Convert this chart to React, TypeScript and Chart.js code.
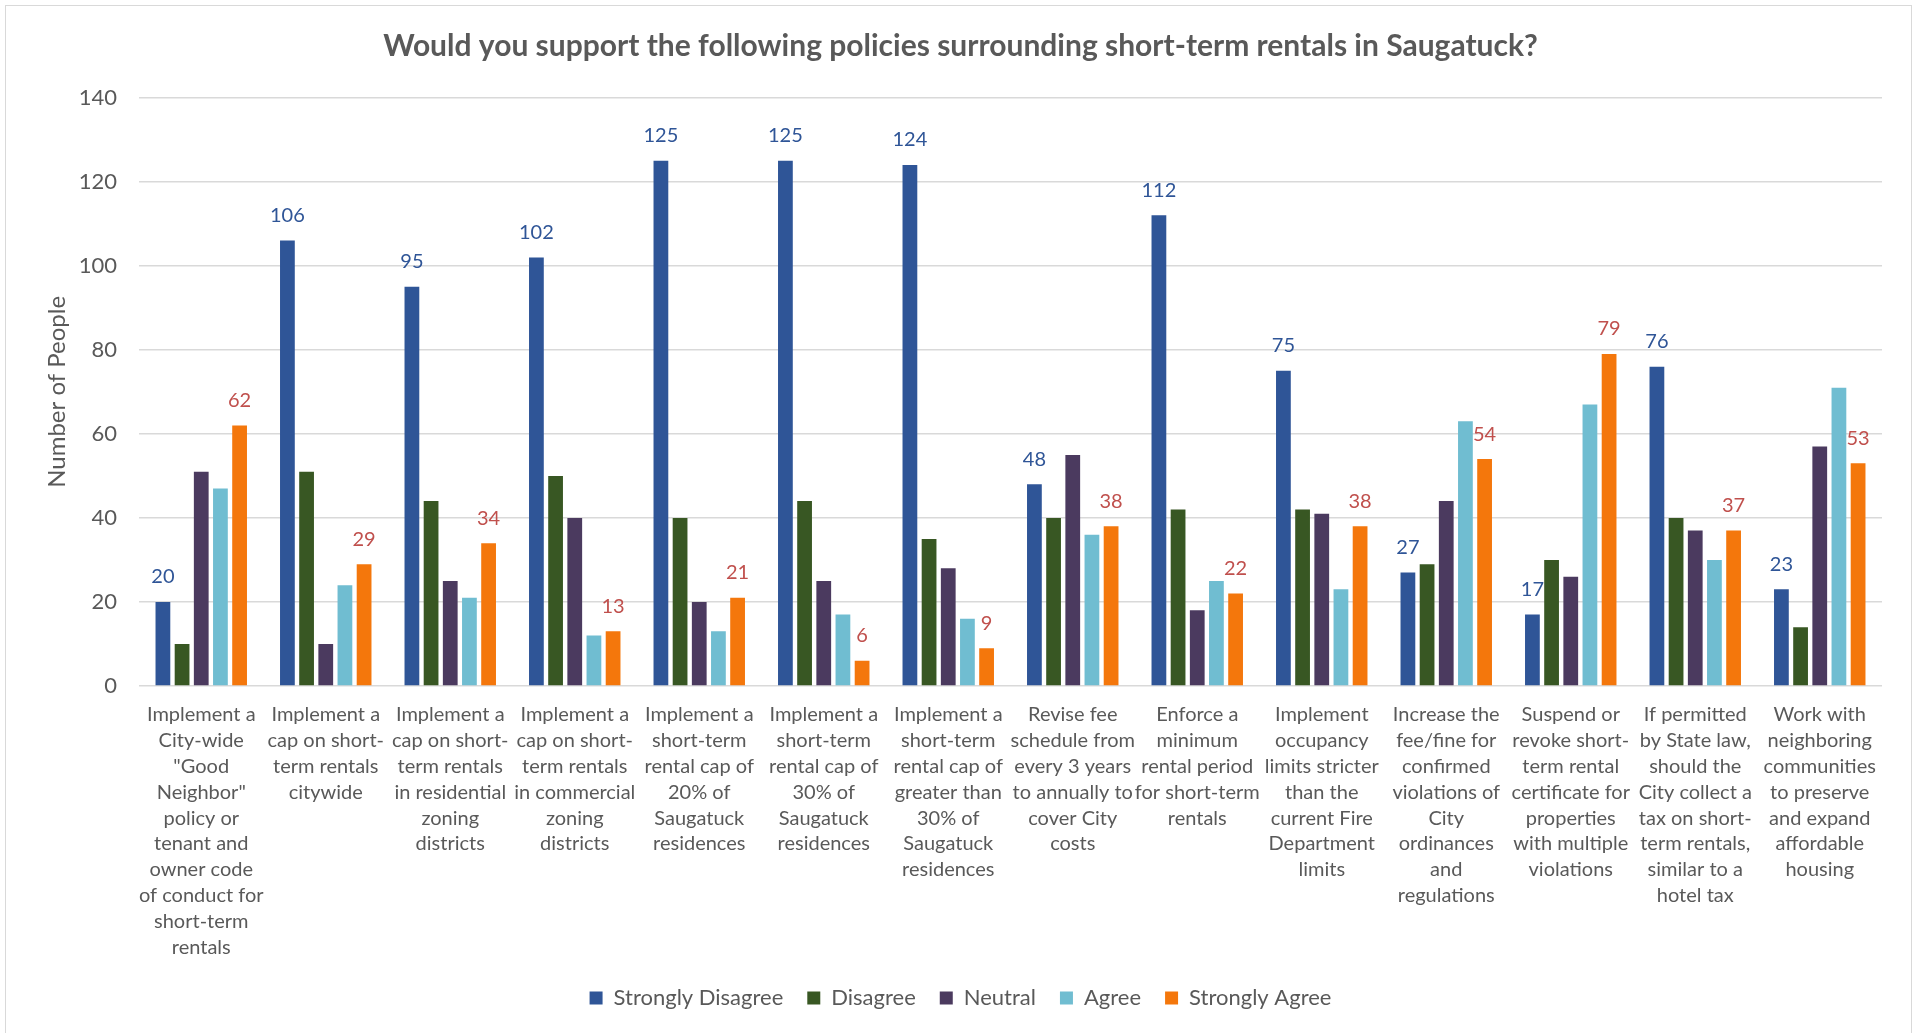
import React, { useEffect, useRef } from "react";
import { Chart, registerables } from "chart.js";

Chart.register(...registerables);

const categories: string[][] = [
  ["Implement a", "City-wide", '"Good', 'Neighbor"', "policy or", "tenant and", "owner code", "of conduct for", "short-term", "rentals"],
  ["Implement a", "cap on short-", "term rentals", "citywide"],
  ["Implement a", "cap on short-", "term rentals", "in residential", "zoning", "districts"],
  ["Implement a", "cap on short-", "term rentals", "in commercial", "zoning", "districts"],
  ["Implement a", "short-term", "rental cap of", "20% of", "Saugatuck", "residences"],
  ["Implement a", "short-term", "rental cap of", "30% of", "Saugatuck", "residences"],
  ["Implement a", "short-term", "rental cap of", "greater than", "30% of", "Saugatuck", "residences"],
  ["Revise fee", "schedule from", "every 3 years", "to annually to", "cover City", "costs"],
  ["Enforce a", "minimum", "rental period", "for short-term", "rentals"],
  ["Implement", "occupancy", "limits stricter", "than the", "current Fire", "Department", "limits"],
  ["Increase the", "fee/fine for", "confirmed", "violations of", "City", "ordinances", "and", "regulations"],
  ["Suspend or", "revoke short-", "term rental", "certificate for", "properties", "with multiple", "violations"],
  ["If permitted", "by State law,", "should the", "City collect a", "tax on short-", "term rentals,", "similar to a", "hotel tax"],
  ["Work with", "neighboring", "communities", "to preserve", "and expand", "affordable", "housing"],
];

const seriesNames = ["Strongly Disagree", "Disagree", "Neutral", "Agree", "Strongly Agree"];
const stronglyDisagree = [20, 106, 95, 102, 125, 125, 124, 48, 112, 75, 27, 17, 76, 23];
const disagree = [10, 51, 44, 50, 40, 44, 35, 40, 42, 42, 29, 30, 40, 14];
const neutral = [51, 10, 25, 40, 20, 25, 28, 55, 18, 41, 44, 26, 37, 57];
const agree = [47, 24, 21, 12, 13, 17, 16, 36, 25, 23, 63, 67, 30, 71];
const stronglyAgree = [62, 29, 34, 13, 21, 6, 9, 38, 22, 38, 54, 79, 37, 53];
const yTicks = [0, 20, 40, 60, 80, 100, 120, 140];

const titleText = "Would you support the following policies surrounding short-term rentals in Saugatuck?";
const yAxisTitle = "Number of People";

const seriesColors = ["#2F5597", "#385723", "#4B3A5F", "#70BDD1", "#F4770C"];
const labelledSeries: [number, string][] = [
  [0, "#2F5597"],
  [4, "#C0504D"],
];

const FONT = "Lato, 'Open Sans', sans-serif";
const GRAY = "#595959";

const valueLabelPlugin = {
  id: "valueLabels",
  afterDatasetsDraw(chart: any) {
    const ctx = chart.ctx;
    labelledSeries.forEach(([di, color]) => {
      const meta = chart.getDatasetMeta(di);
      const values = chart.data.datasets[di].data;
      meta.data.forEach((bar: any, j: number) => {
        ctx.save();
        ctx.font = `20px ${FONT}`;
        ctx.fillStyle = color;
        ctx.textAlign = "center";
        ctx.textBaseline = "middle";
        ctx.fillText(String(values[j]), bar.x, bar.y - 25);
        ctx.restore();
      });
    });
  },
};

export default function App() {
  const canvasRef = useRef<HTMLCanvasElement | null>(null);

  useEffect(() => {
    document.body.style.margin = "0";
    const canvas = canvasRef.current;
    if (!canvas) return;
    const seriesData = [stronglyDisagree, disagree, neutral, agree, stronglyAgree];
    const chart = new Chart(canvas, {
      type: "bar",
      data: {
        labels: categories,
        datasets: seriesNames.map((name, i) => ({
          label: name,
          data: seriesData[i],
          backgroundColor: seriesColors[i],
          borderWidth: 0,
          categoryPercentage: 0.77,
          barPercentage: 0.77,
        })),
      },
      options: {
        responsive: false,
        animation: false,
        devicePixelRatio: 1,
        layout: { padding: { left: 39, right: 39, top: 0, bottom: 14 } },
        plugins: {
          title: {
            display: true,
            text: titleText,
            color: GRAY,
            font: { family: FONT, size: 30, weight: "bold", lineHeight: 1.2 },
            padding: { top: 28, bottom: 33.7 },
          },
          legend: {
            position: "bottom",
            labels: {
              color: GRAY,
              font: { family: FONT, size: 22 },
              boxWidth: 13,
              boxHeight: 13,
              padding: 24,
            },
          },
          tooltip: { enabled: true },
        },
        scales: {
          x: {
            grid: { display: false },
            border: { display: false },
            ticks: {
              color: GRAY,
              autoSkip: false,
              maxRotation: 0,
              minRotation: 0,
              padding: 8,
              font: { family: FONT, size: 20, lineHeight: 1.29 },
            },
            afterFit: (scale: any) => {
              scale.height = 277;
            },
          },
          y: {
            min: 0,
            max: 140,
            afterBuildTicks: (scale: any) => {
              scale.ticks = yTicks.map((v) => ({ value: v }));
            },
            grid: { color: "#D9D9D9", lineWidth: 1.5, drawTicks: false },
            border: { display: false },
            ticks: {
              color: GRAY,
              padding: 22,
              font: { family: FONT, size: 22 },
            },
            title: {
              display: true,
              text: yAxisTitle,
              color: GRAY,
              font: { family: FONT, size: 24, lineHeight: 1.2 },
              padding: { top: 4, bottom: 0 },
            },
            afterFit: (scale: any) => {
              scale.width = 100;
            },
          },
        },
      },
      plugins: [valueLabelPlugin],
    } as any);
    return () => chart.destroy();
  }, []);

  return (
    <div style={{ position: "absolute", left: 0, top: 0, width: 1921, height: 1033, overflow: "hidden", background: "#fff" }}>
      <canvas ref={canvasRef} width={1921} height={1033} style={{ position: "absolute", left: 0, top: 0, width: 1921, height: 1033 }} />
      <div
        style={{
          position: "absolute",
          left: 5,
          top: 5,
          width: 1905,
          height: 1060,
          border: "1.5px solid #D9D9D9",
          pointerEvents: "none",
        }}
      />
    </div>
  );
}
